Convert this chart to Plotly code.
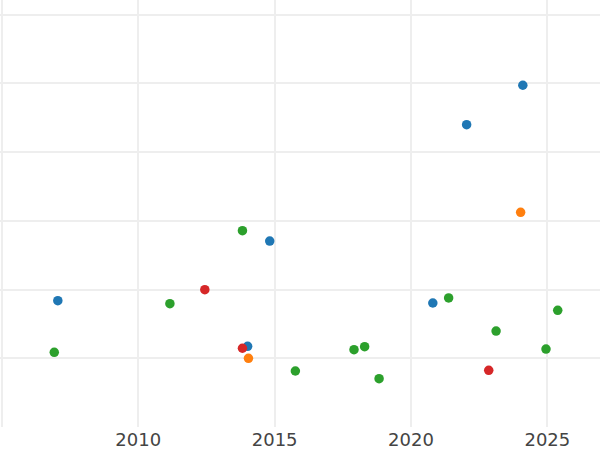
import plotly.graph_objects as go

# Data (x = year, y = value in grid units)
blue_x = [2007.05, 2014.01, 2014.82, 2020.80, 2022.04, 2024.10]
blue_y = [1.838, 1.175, 2.707, 1.805, 4.400, 4.974]

orange_x = [2014.04, 2024.02]
orange_y = [1.000, 3.125]

green_x = [2006.92, 2011.16, 2013.82, 2015.76, 2017.91, 2018.30, 2018.83,
           2021.38, 2023.12, 2024.95, 2025.38]
green_y = [1.087, 1.795, 2.857, 0.815, 1.125, 1.169, 0.703,
           1.878, 1.397, 1.135, 1.699]

red_x = [2012.44, 2013.82, 2022.85]
red_y = [1.999, 1.146, 0.825]

series = [
    ("blue", blue_x, blue_y, "#1f77b4"),
    ("orange", orange_x, orange_y, "#ff7f0e"),
    ("green", green_x, green_y, "#2ca02c"),
    ("red", red_x, red_y, "#d62728"),
]

fig = go.Figure()
for name, xs, ys, color in series:
    fig.add_trace(go.Scatter(x=xs, y=ys, mode="markers", name=name,
                             marker=dict(color=color, size=9.5)))

fig.update_layout(
    template="none",
    width=600, height=450,
    margin=dict(l=0, r=0, t=0, b=23),
    showlegend=False,
    paper_bgcolor="white", plot_bgcolor="white",
    font=dict(family="DejaVu Sans", size=18, color="#444"),
    xaxis=dict(range=[2004.93, 2026.93], dtick=5, tick0=2010,
               showgrid=True, gridcolor="#eeeeee", gridwidth=1.5,
               zeroline=False, ticks=""),
    yaxis=dict(range=[0, 6.215], dtick=1, showticklabels=False,
               showgrid=True, gridcolor="#eeeeee", gridwidth=1.5,
               zeroline=False, ticks=""),
)

fig.write_html("out.html",
               config={"displayModeBar": False},
               post_script="document.body.style.margin='0';document.body.style.overflow='hidden';")
